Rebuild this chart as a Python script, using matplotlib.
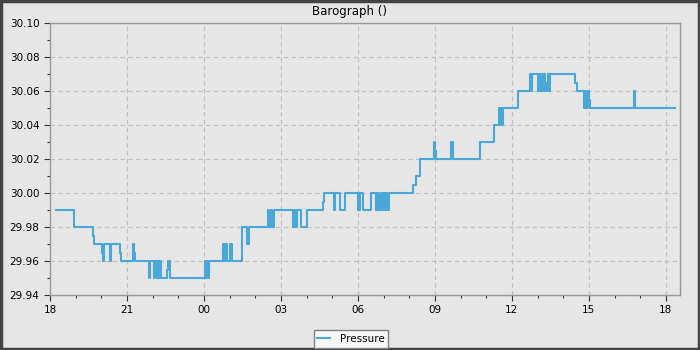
import matplotlib.pyplot as plt
import matplotlib.dates as mdates
import pandas as pd
from matplotlib.patches import Rectangle

# Pressure readings: hours after 18:00 on the first day, value in inHg (step series)
hours = [0.23, 0.94, 1.66, 1.72, 2.04, 2.07, 2.10, 2.33, 2.36, 2.74, 2.78,
         3.24, 3.27, 3.30, 3.85, 3.88, 3.90, 4.07, 4.10, 4.18, 4.22, 4.25,
         4.30, 4.34, 4.55, 4.60, 4.66, 6.04, 6.07, 6.11, 6.14, 6.18, 6.75,
         6.79, 6.83, 6.88, 6.98, 7.02, 7.08, 7.47, 7.69, 7.77, 8.48, 8.53,
         8.60, 8.65, 8.73, 9.46, 9.50, 9.54, 9.61, 9.78, 9.80, 10.02, 10.62,
         10.67, 11.08, 11.11, 11.32, 11.50, 12.00, 12.03, 12.06, 12.08, 12.20,
         12.52, 12.70, 12.73, 12.76, 12.80, 12.83, 12.88, 12.98, 13.01, 13.04,
         13.08, 13.12, 13.21, 14.13, 14.25, 14.40, 14.98, 15.01, 15.05, 15.61,
         15.71, 16.75, 17.30, 17.50, 17.53, 17.57, 17.60, 17.64, 18.22, 18.70,
         18.74, 18.78, 19.01, 19.05, 19.09, 19.14, 19.18, 19.23, 19.27, 19.30,
         19.35, 19.40, 19.44, 19.48, 20.45, 20.55, 20.80, 20.84, 20.90, 20.96,
         21.00, 21.04, 22.76, 22.80, 24.35]
pressure = [29.99, 29.98, 29.975, 29.97, 29.965, 29.96, 29.97, 29.96, 29.97, 29.965, 29.96,
            29.97, 29.965, 29.96, 29.95, 29.955, 29.96, 29.95, 29.96, 29.95, 29.96, 29.95,
            29.96, 29.95, 29.955, 29.96, 29.95, 29.96, 29.95, 29.96, 29.95, 29.96, 29.97,
            29.96, 29.97, 29.96, 29.96, 29.97, 29.96, 29.98, 29.97, 29.98, 29.99, 29.98,
            29.99, 29.98, 29.99, 29.98, 29.99, 29.98, 29.99, 29.985, 29.98, 29.99, 29.995,
            30.00, 29.99, 30.00, 29.99, 30.00, 29.99, 30.00, 29.99, 30.00, 29.99,
            30.00, 29.99, 30.00, 29.99, 30.00, 29.99, 30.00, 29.99, 30.00, 29.99,
            30.00, 29.99, 30.00, 30.005, 30.01, 30.02, 30.03, 30.025, 30.02, 30.03,
            30.02, 30.03, 30.04, 30.05, 30.04, 30.05, 30.04, 30.05, 30.06, 30.07,
            30.06, 30.07, 30.06, 30.07, 30.06, 30.07, 30.06, 30.07, 30.06, 30.065,
            30.06, 30.07, 30.06, 30.07, 30.065, 30.06, 30.05, 30.06, 30.05, 30.06,
            30.055, 30.05, 30.06, 30.05, 30.05]

start = pd.Timestamp('2024-03-01 18:00')
times = start + pd.to_timedelta(hours, unit='h')

bg = '#e6e6e6'
fig = plt.figure(figsize=(7, 3.5), dpi=100, facecolor=bg)
ax = fig.add_axes([50 / 700, 55 / 350, 630 / 700, 272 / 350], facecolor=bg)

ax.step(times, pressure, where='post', color='#4aa8d8', lw=1.5, label='Pressure')

ax.set_xlim(start, start + pd.Timedelta(hours=24.55))
ax.set_ylim(29.94, 30.10)
ax.xaxis.set_major_locator(mdates.HourLocator(byhour=range(0, 24, 3)))
ax.xaxis.set_minor_locator(mdates.HourLocator())
ax.xaxis.set_major_formatter(mdates.DateFormatter('%H'))
ax.set_yticks([29.94, 29.96, 29.98, 30.00, 30.02, 30.04, 30.06, 30.08, 30.10])
ax.set_yticks([29.95, 29.97, 29.99, 30.01, 30.03, 30.05, 30.07, 30.09], minor=True)
ax.yaxis.set_major_formatter(plt.FormatStrFormatter('%.2f'))

ax.tick_params(which='major', direction='out', length=4, width=0.8, colors='#333333',
               labelcolor='black', labelsize=7.5)
ax.tick_params(which='minor', direction='out', length=2.5, width=0.8, colors='#333333')
for s in ax.spines.values():
    s.set_color('#999999')
    s.set_linewidth(1)

ax.grid(True, which='major', color='#c0c0c0', linestyle=(0, (4, 3)), linewidth=0.8)
ax.set_axisbelow(True)

fig.text(0.5, 1 - 11 / 350, 'Barograph ()', ha='center', va='center', fontsize=8.5)

leg = fig.legend(loc='center', bbox_to_anchor=(351 / 700, 1 - 339 / 350), fontsize=7.5,
                 fancybox=False, framealpha=1, facecolor='#f8f8f8', edgecolor='#808080',
                 handlelength=1.2, borderpad=0.35, handletextpad=1.0, borderaxespad=0)
leg.get_frame().set_linewidth(1)

# dark outer border
fig.patches.append(Rectangle((0.002, 0.004), 0.996, 0.992, transform=fig.transFigure,
                             fill=False, edgecolor='#444444', linewidth=2.5))

fig.savefig('out.png', dpi=100, facecolor=bg)
